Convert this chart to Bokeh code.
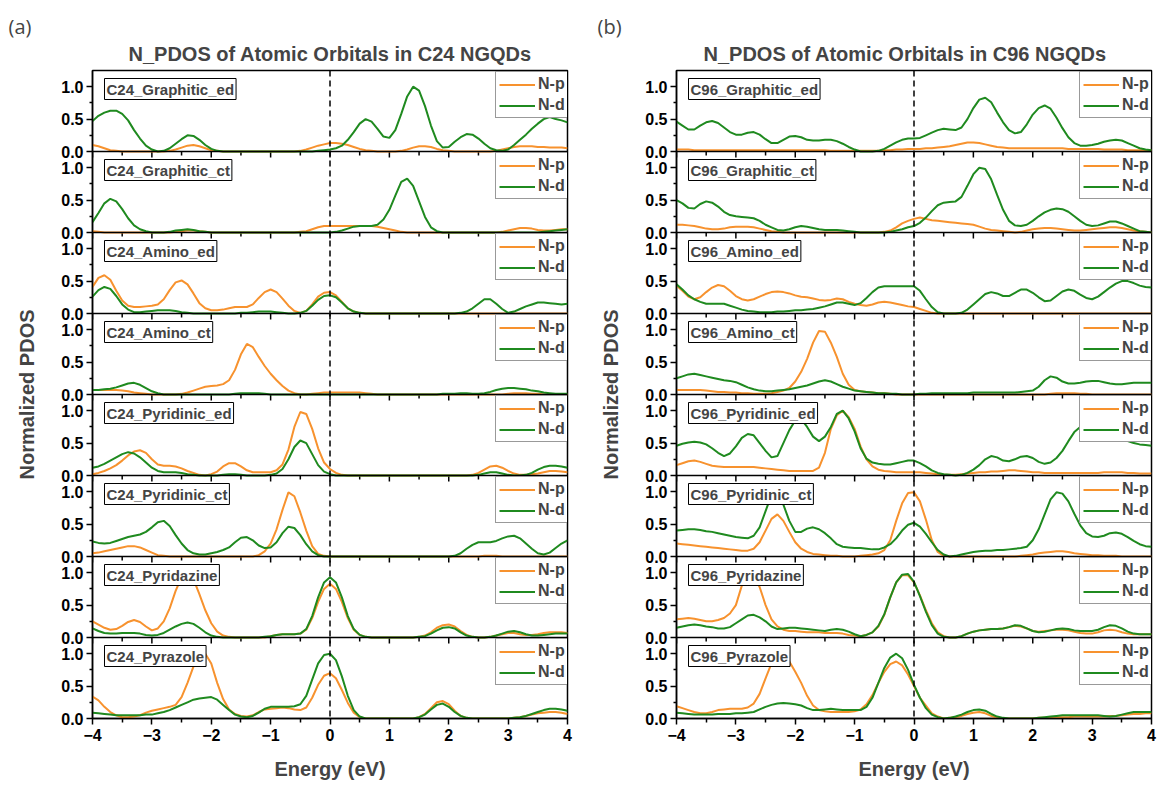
from bokeh.plotting import figure
from bokeh.models import Range1d, FixedTicker, Span, Label, Legend, LegendItem
from bokeh.layouts import row, column
from bokeh.embed import file_html
from bokeh.resources import INLINE

# ---------------- data ----------------
energy = [round(-4.0 + 0.1 * i, 1) for i in range(81)]
x_major_ticks = [-4, -3, -2, -1, 0, 1, 2, 3, 4]
x_minor_ticks = [-3.5, -2.5, -1.5, -0.5, 0.5, 1.5, 2.5, 3.5]
y_tick_values = [0.0, 0.5, 1.0]
y_tick_labels = ["0.0", "0.5", "1.0"]
y_minor_values = [0.25, 0.75]
series_names = ["N-p", "N-d"]
panel_titles = ["N_PDOS of Atomic Orbitals in C24 NGQDs", "N_PDOS of Atomic Orbitals in C96 NGQDs"]
panel_letters = ["(a)", "(b)"]

c24_labels = ["C24_Graphitic_ed", "C24_Graphitic_ct", "C24_Amino_ed", "C24_Amino_ct",
              "C24_Pyridinic_ed", "C24_Pyridinic_ct", "C24_Pyridazine", "C24_Pyrazole"]
c96_labels = ["C96_Graphitic_ed", "C96_Graphitic_ct", "C96_Amino_ed", "C96_Amino_ct",
              "C96_Pyridinic_ed", "C96_Pyridinic_ct", "C96_Pyridazine", "C96_Pyrazole"]

c24_graphitic_ed_p = [
    0.10, 0.08, 0.05, 0.02, 0.01, 0.00, 0.00, 0.00, 0.00, 0.00,
    0.00, 0.00, 0.00, 0.01, 0.03, 0.06, 0.09, 0.10, 0.08, 0.05,
    0.02, 0.01, 0.00, 0.00, 0.00, 0.00, 0.00, 0.00, 0.00, 0.00,
    0.00, 0.00, 0.00, 0.00, 0.00, 0.01, 0.03, 0.06, 0.09, 0.11,
    0.13, 0.13, 0.12, 0.10, 0.07, 0.04, 0.02, 0.01, 0.00, 0.00,
    0.00, 0.00, 0.01, 0.03, 0.06, 0.08, 0.08, 0.07, 0.04, 0.02,
    0.01, 0.00, 0.00, 0.00, 0.00, 0.00, 0.00, 0.00, 0.01, 0.03,
    0.05, 0.07, 0.08, 0.08, 0.08, 0.07, 0.07, 0.06, 0.06, 0.06,
    0.05]
c24_graphitic_ed_d = [
    0.47, 0.55, 0.60, 0.63, 0.63, 0.58, 0.48, 0.33, 0.20, 0.09,
    0.03, 0.00, 0.01, 0.05, 0.12, 0.19, 0.25, 0.24, 0.18, 0.10,
    0.04, 0.01, 0.00, 0.00, 0.00, 0.00, 0.00, 0.00, 0.00, 0.00,
    0.00, 0.00, 0.00, 0.00, 0.00, 0.00, 0.00, 0.00, 0.01, 0.02,
    0.03, 0.05, 0.09, 0.18, 0.30, 0.43, 0.50, 0.46, 0.35, 0.23,
    0.21, 0.33, 0.58, 0.85, 1.00, 0.94, 0.70, 0.40, 0.16, 0.06,
    0.07, 0.15, 0.22, 0.27, 0.26, 0.20, 0.12, 0.05, 0.02, 0.01,
    0.03, 0.10, 0.18, 0.26, 0.35, 0.43, 0.50, 0.53, 0.50, 0.48,
    0.45]

c24_graphitic_ct_p = [
    0.02, 0.01, 0.00, 0.00, 0.00, 0.00, 0.00, 0.00, 0.00, 0.00,
    0.00, 0.00, 0.00, 0.00, 0.01, 0.02, 0.03, 0.03, 0.02, 0.01,
    0.00, 0.00, 0.00, 0.00, 0.00, 0.00, 0.00, 0.00, 0.00, 0.00,
    0.00, 0.00, 0.00, 0.00, 0.00, 0.01, 0.02, 0.05, 0.08, 0.10,
    0.10, 0.10, 0.10, 0.10, 0.10, 0.10, 0.10, 0.10, 0.09, 0.07,
    0.05, 0.03, 0.01, 0.00, 0.00, 0.00, 0.00, 0.00, 0.00, 0.00,
    0.00, 0.00, 0.00, 0.00, 0.00, 0.00, 0.00, 0.00, 0.00, 0.01,
    0.03, 0.05, 0.07, 0.07, 0.06, 0.04, 0.03, 0.03, 0.04, 0.05,
    0.05]
c24_graphitic_ct_d = [
    0.16, 0.30, 0.45, 0.52, 0.48, 0.36, 0.22, 0.11, 0.05, 0.02,
    0.00, 0.00, 0.00, 0.01, 0.03, 0.04, 0.05, 0.04, 0.02, 0.01,
    0.00, 0.00, 0.00, 0.00, 0.00, 0.00, 0.00, 0.00, 0.00, 0.00,
    0.00, 0.00, 0.00, 0.00, 0.00, 0.00, 0.00, 0.00, 0.00, 0.00,
    0.00, 0.01, 0.03, 0.06, 0.09, 0.10, 0.10, 0.10, 0.12, 0.20,
    0.35, 0.57, 0.78, 0.83, 0.72, 0.48, 0.24, 0.08, 0.02, 0.00,
    0.00, 0.00, 0.00, 0.00, 0.00, 0.00, 0.00, 0.00, 0.00, 0.00,
    0.00, 0.00, 0.00, 0.00, 0.00, 0.00, 0.01, 0.02, 0.03, 0.04,
    0.05]

c24_amino_ed_p = [
    0.41, 0.55, 0.59, 0.52, 0.35, 0.20, 0.12, 0.10, 0.10, 0.11,
    0.12, 0.14, 0.22, 0.36, 0.48, 0.51, 0.45, 0.31, 0.16, 0.08,
    0.05, 0.05, 0.06, 0.08, 0.10, 0.10, 0.10, 0.14, 0.24, 0.33,
    0.37, 0.33, 0.23, 0.12, 0.04, 0.01, 0.04, 0.14, 0.26, 0.32,
    0.33, 0.28, 0.18, 0.08, 0.03, 0.01, 0.00, 0.00, 0.00, 0.00,
    0.00, 0.00, 0.00, 0.00, 0.00, 0.00, 0.00, 0.00, 0.00, 0.00,
    0.00, 0.00, 0.00, 0.00, 0.00, 0.00, 0.00, 0.00, 0.00, 0.00,
    0.00, 0.00, 0.00, 0.00, 0.00, 0.00, 0.00, 0.00, 0.00, 0.00,
    0.00]
c24_amino_ed_d = [
    0.26, 0.36, 0.41, 0.38, 0.27, 0.14, 0.06, 0.02, 0.02, 0.03,
    0.04, 0.05, 0.05, 0.05, 0.04, 0.02, 0.01, 0.00, 0.00, 0.00,
    0.00, 0.00, 0.00, 0.00, 0.00, 0.01, 0.01, 0.02, 0.03, 0.03,
    0.03, 0.02, 0.01, 0.00, 0.00, 0.01, 0.04, 0.12, 0.21, 0.27,
    0.28, 0.25, 0.17, 0.08, 0.03, 0.01, 0.00, 0.00, 0.00, 0.00,
    0.00, 0.00, 0.00, 0.00, 0.00, 0.00, 0.00, 0.00, 0.00, 0.00,
    0.00, 0.00, 0.01, 0.03, 0.08, 0.15, 0.22, 0.22, 0.15, 0.07,
    0.01, 0.03, 0.07, 0.11, 0.14, 0.17, 0.17, 0.16, 0.15, 0.14,
    0.15]

c24_amino_ct_p = [
    0.07, 0.07, 0.07, 0.07, 0.07, 0.06, 0.05, 0.03, 0.02, 0.01,
    0.00, 0.00, 0.00, 0.00, 0.00, 0.01, 0.03, 0.06, 0.09, 0.12,
    0.13, 0.14, 0.16, 0.22, 0.38, 0.62, 0.78, 0.73, 0.58, 0.44,
    0.32, 0.22, 0.13, 0.06, 0.02, 0.00, 0.00, 0.01, 0.02, 0.03,
    0.03, 0.03, 0.03, 0.03, 0.03, 0.03, 0.02, 0.01, 0.00, 0.00,
    0.00, 0.00, 0.00, 0.00, 0.00, 0.00, 0.00, 0.00, 0.00, 0.00,
    0.00, 0.00, 0.00, 0.00, 0.00, 0.00, 0.00, 0.00, 0.00, 0.00,
    0.01, 0.02, 0.02, 0.02, 0.01, 0.01, 0.00, 0.00, 0.00, 0.00,
    0.00]
c24_amino_ct_d = [
    0.07, 0.07, 0.08, 0.09, 0.11, 0.14, 0.17, 0.18, 0.15, 0.10,
    0.05, 0.02, 0.00, 0.00, 0.00, 0.00, 0.00, 0.00, 0.00, 0.00,
    0.00, 0.00, 0.00, 0.00, 0.01, 0.02, 0.02, 0.02, 0.02, 0.01,
    0.00, 0.00, 0.00, 0.00, 0.00, 0.00, 0.00, 0.00, 0.00, 0.00,
    0.00, 0.00, 0.00, 0.00, 0.00, 0.00, 0.00, 0.00, 0.00, 0.00,
    0.00, 0.00, 0.00, 0.00, 0.00, 0.00, 0.00, 0.00, 0.00, 0.01,
    0.01, 0.01, 0.02, 0.02, 0.01, 0.01, 0.02, 0.04, 0.07, 0.09,
    0.10, 0.10, 0.09, 0.08, 0.06, 0.05, 0.03, 0.02, 0.01, 0.01,
    0.01]

c24_pyridinic_ed_p = [
    0.02, 0.04, 0.07, 0.11, 0.16, 0.23, 0.31, 0.37, 0.39, 0.35,
    0.25, 0.17, 0.15, 0.15, 0.14, 0.11, 0.07, 0.04, 0.01, 0.00,
    0.02, 0.06, 0.14, 0.19, 0.19, 0.14, 0.08, 0.05, 0.05, 0.05,
    0.05, 0.08, 0.17, 0.40, 0.75, 0.98, 0.95, 0.72, 0.42, 0.20,
    0.10, 0.04, 0.01, 0.00, 0.00, 0.00, 0.00, 0.00, 0.00, 0.00,
    0.00, 0.00, 0.00, 0.00, 0.00, 0.00, 0.00, 0.00, 0.00, 0.00,
    0.00, 0.00, 0.00, 0.00, 0.01, 0.04, 0.09, 0.14, 0.15, 0.12,
    0.07, 0.03, 0.01, 0.01, 0.02, 0.03, 0.05, 0.07, 0.07, 0.06,
    0.05]
c24_pyridinic_ed_d = [
    0.12, 0.14, 0.18, 0.23, 0.28, 0.33, 0.36, 0.34, 0.28, 0.20,
    0.12, 0.07, 0.05, 0.05, 0.05, 0.04, 0.02, 0.01, 0.00, 0.00,
    0.00, 0.00, 0.01, 0.02, 0.02, 0.01, 0.00, 0.00, 0.00, 0.00,
    0.01, 0.03, 0.10, 0.25, 0.44, 0.54, 0.50, 0.33, 0.16, 0.06,
    0.02, 0.00, 0.00, 0.00, 0.00, 0.00, 0.00, 0.00, 0.00, 0.00,
    0.00, 0.00, 0.00, 0.00, 0.00, 0.00, 0.00, 0.00, 0.00, 0.00,
    0.00, 0.00, 0.00, 0.00, 0.00, 0.01, 0.03, 0.05, 0.05, 0.03,
    0.01, 0.00, 0.00, 0.01, 0.04, 0.09, 0.13, 0.15, 0.15, 0.14,
    0.12]

c24_pyridinic_ct_p = [
    0.05, 0.06, 0.08, 0.10, 0.12, 0.14, 0.16, 0.16, 0.14, 0.10,
    0.06, 0.02, 0.01, 0.00, 0.00, 0.00, 0.00, 0.00, 0.00, 0.00,
    0.00, 0.00, 0.00, 0.00, 0.00, 0.00, 0.00, 0.00, 0.02, 0.08,
    0.20, 0.42, 0.72, 0.99, 0.93, 0.68, 0.40, 0.16, 0.04, 0.01,
    0.00, 0.00, 0.00, 0.00, 0.00, 0.00, 0.00, 0.00, 0.00, 0.00,
    0.00, 0.00, 0.00, 0.00, 0.00, 0.00, 0.00, 0.00, 0.00, 0.00,
    0.00, 0.00, 0.00, 0.00, 0.00, 0.00, 0.01, 0.01, 0.01, 0.00,
    0.00, 0.00, 0.00, 0.00, 0.00, 0.00, 0.00, 0.00, 0.00, 0.00,
    0.00]
c24_pyridinic_ct_d = [
    0.23, 0.21, 0.20, 0.21, 0.24, 0.27, 0.30, 0.32, 0.34, 0.38,
    0.45, 0.53, 0.55, 0.47, 0.33, 0.20, 0.10, 0.05, 0.03, 0.03,
    0.05, 0.07, 0.10, 0.14, 0.22, 0.29, 0.30, 0.25, 0.17, 0.13,
    0.14, 0.22, 0.36, 0.46, 0.44, 0.33, 0.19, 0.08, 0.02, 0.00,
    0.00, 0.00, 0.00, 0.00, 0.00, 0.00, 0.00, 0.00, 0.00, 0.00,
    0.00, 0.00, 0.00, 0.00, 0.00, 0.00, 0.00, 0.00, 0.00, 0.00,
    0.00, 0.01, 0.05, 0.12, 0.18, 0.22, 0.22, 0.22, 0.24, 0.28,
    0.31, 0.32, 0.28, 0.20, 0.12, 0.05, 0.03, 0.06, 0.13, 0.20,
    0.25]

c24_pyridazine_p = [
    0.25, 0.20, 0.15, 0.12, 0.13, 0.18, 0.24, 0.27, 0.24, 0.17,
    0.11, 0.14, 0.25, 0.45, 0.72, 0.93, 1.00, 0.90, 0.67, 0.42,
    0.22, 0.09, 0.03, 0.01, 0.00, 0.00, 0.00, 0.00, 0.00, 0.00,
    0.02, 0.04, 0.05, 0.05, 0.05, 0.06, 0.12, 0.30, 0.55, 0.75,
    0.83, 0.75, 0.55, 0.30, 0.12, 0.04, 0.01, 0.00, 0.00, 0.00,
    0.00, 0.00, 0.00, 0.00, 0.00, 0.01, 0.03, 0.08, 0.15, 0.19,
    0.20, 0.17, 0.10, 0.04, 0.01, 0.00, 0.00, 0.01, 0.03, 0.05,
    0.07, 0.07, 0.05, 0.04, 0.04, 0.05, 0.07, 0.08, 0.08, 0.08,
    0.07]
c24_pyridazine_d = [
    0.14, 0.10, 0.07, 0.06, 0.06, 0.07, 0.07, 0.07, 0.06, 0.04,
    0.03, 0.04, 0.07, 0.12, 0.17, 0.21, 0.23, 0.21, 0.15, 0.08,
    0.03, 0.01, 0.00, 0.00, 0.00, 0.00, 0.00, 0.00, 0.00, 0.01,
    0.02, 0.04, 0.05, 0.05, 0.05, 0.06, 0.13, 0.33, 0.62, 0.85,
    0.93, 0.85, 0.62, 0.33, 0.13, 0.04, 0.01, 0.00, 0.00, 0.00,
    0.00, 0.00, 0.00, 0.00, 0.00, 0.01, 0.02, 0.06, 0.11, 0.15,
    0.16, 0.14, 0.08, 0.03, 0.01, 0.00, 0.00, 0.01, 0.03, 0.06,
    0.09, 0.10, 0.08, 0.05, 0.03, 0.03, 0.04, 0.05, 0.06, 0.06,
    0.06]

c24_pyrazole_p = [
    0.34, 0.28, 0.18, 0.10, 0.05, 0.02, 0.02, 0.03, 0.05, 0.09,
    0.12, 0.14, 0.16, 0.18, 0.21, 0.33, 0.55, 0.80, 0.97, 1.00,
    0.85, 0.55, 0.30, 0.14, 0.07, 0.04, 0.03, 0.05, 0.10, 0.14,
    0.15, 0.16, 0.17, 0.16, 0.14, 0.13, 0.17, 0.32, 0.52, 0.66,
    0.70, 0.62, 0.44, 0.24, 0.09, 0.02, 0.00, 0.00, 0.00, 0.00,
    0.00, 0.00, 0.00, 0.00, 0.00, 0.02, 0.07, 0.16, 0.25, 0.27,
    0.22, 0.12, 0.04, 0.01, 0.00, 0.00, 0.00, 0.00, 0.00, 0.00,
    0.00, 0.01, 0.02, 0.04, 0.06, 0.08, 0.09, 0.10, 0.10, 0.09,
    0.07]
c24_pyrazole_d = [
    0.09, 0.08, 0.07, 0.06, 0.05, 0.05, 0.05, 0.05, 0.05, 0.06,
    0.06, 0.08, 0.10, 0.13, 0.17, 0.21, 0.25, 0.29, 0.31, 0.32,
    0.33, 0.29, 0.21, 0.13, 0.06, 0.03, 0.02, 0.04, 0.09, 0.15,
    0.18, 0.18, 0.18, 0.18, 0.19, 0.22, 0.35, 0.60, 0.85, 0.98,
    1.00, 0.90, 0.65, 0.35, 0.13, 0.03, 0.00, 0.00, 0.00, 0.00,
    0.00, 0.00, 0.00, 0.00, 0.00, 0.02, 0.06, 0.14, 0.21, 0.23,
    0.18, 0.10, 0.04, 0.01, 0.00, 0.00, 0.00, 0.00, 0.00, 0.00,
    0.00, 0.01, 0.02, 0.04, 0.07, 0.10, 0.13, 0.15, 0.15, 0.14,
    0.12]

c96_graphitic_ed_p = [
    0.03, 0.03, 0.03, 0.02, 0.02, 0.02, 0.02, 0.02, 0.02, 0.02,
    0.02, 0.02, 0.02, 0.02, 0.02, 0.02, 0.02, 0.02, 0.02, 0.02,
    0.02, 0.02, 0.02, 0.02, 0.02, 0.02, 0.01, 0.01, 0.01, 0.01,
    0.01, 0.01, 0.01, 0.01, 0.01, 0.02, 0.02, 0.03, 0.03, 0.04,
    0.04, 0.04, 0.05, 0.05, 0.06, 0.07, 0.08, 0.10, 0.12, 0.14,
    0.14, 0.13, 0.11, 0.09, 0.07, 0.06, 0.05, 0.05, 0.05, 0.05,
    0.05, 0.05, 0.05, 0.05, 0.05, 0.05, 0.04, 0.04, 0.04, 0.04,
    0.04, 0.04, 0.03, 0.03, 0.03, 0.03, 0.02, 0.02, 0.02, 0.02,
    0.02]
c96_graphitic_ed_d = [
    0.46, 0.40, 0.34, 0.34, 0.40, 0.45, 0.47, 0.44, 0.37, 0.30,
    0.26, 0.26, 0.29, 0.30, 0.26, 0.19, 0.13, 0.13, 0.18, 0.23,
    0.24, 0.22, 0.18, 0.17, 0.17, 0.18, 0.18, 0.16, 0.12, 0.07,
    0.03, 0.00, 0.00, 0.00, 0.01, 0.04, 0.09, 0.14, 0.18, 0.20,
    0.20, 0.21, 0.25, 0.29, 0.33, 0.35, 0.34, 0.33, 0.37, 0.50,
    0.67, 0.80, 0.83, 0.76, 0.60, 0.45, 0.33, 0.28, 0.30, 0.42,
    0.57, 0.67, 0.71, 0.66, 0.52, 0.36, 0.22, 0.13, 0.09, 0.09,
    0.10, 0.12, 0.15, 0.17, 0.18, 0.17, 0.13, 0.09, 0.05, 0.03,
    0.02]

c96_graphitic_ct_p = [
    0.12, 0.12, 0.11, 0.10, 0.08, 0.06, 0.05, 0.05, 0.06, 0.08,
    0.09, 0.09, 0.09, 0.08, 0.06, 0.04, 0.02, 0.01, 0.00, 0.00,
    0.00, 0.00, 0.00, 0.00, 0.00, 0.00, 0.00, 0.00, 0.00, 0.00,
    0.00, 0.00, 0.00, 0.00, 0.00, 0.01, 0.03, 0.08, 0.14, 0.18,
    0.21, 0.23, 0.21, 0.19, 0.18, 0.17, 0.16, 0.15, 0.14, 0.13,
    0.12, 0.09, 0.06, 0.04, 0.03, 0.02, 0.01, 0.00, 0.01, 0.03,
    0.05, 0.06, 0.07, 0.07, 0.06, 0.05, 0.04, 0.03, 0.03, 0.04,
    0.05, 0.06, 0.07, 0.08, 0.08, 0.07, 0.05, 0.03, 0.02, 0.01,
    0.00]
c96_graphitic_ct_d = [
    0.50, 0.45, 0.38, 0.37, 0.44, 0.48, 0.46, 0.40, 0.32, 0.27,
    0.25, 0.24, 0.23, 0.22, 0.18, 0.12, 0.08, 0.04, 0.03, 0.05,
    0.08, 0.10, 0.09, 0.07, 0.05, 0.04, 0.04, 0.04, 0.03, 0.02,
    0.01, 0.00, 0.00, 0.00, 0.00, 0.00, 0.01, 0.03, 0.05, 0.08,
    0.10, 0.15, 0.23, 0.33, 0.42, 0.46, 0.47, 0.48, 0.55, 0.72,
    0.90, 1.00, 0.98, 0.82, 0.58, 0.35, 0.18, 0.11, 0.10, 0.12,
    0.18, 0.25, 0.31, 0.35, 0.37, 0.36, 0.32, 0.25, 0.18, 0.12,
    0.10, 0.11, 0.14, 0.17, 0.17, 0.14, 0.10, 0.06, 0.02, 0.01,
    0.00]

c96_amino_ed_p = [
    0.43, 0.35, 0.26, 0.22, 0.25, 0.33, 0.40, 0.44, 0.42, 0.35,
    0.27, 0.22, 0.20, 0.22, 0.26, 0.30, 0.33, 0.34, 0.33, 0.31,
    0.28, 0.26, 0.25, 0.23, 0.21, 0.20, 0.21, 0.23, 0.22, 0.18,
    0.15, 0.13, 0.12, 0.14, 0.17, 0.18, 0.17, 0.15, 0.13, 0.11,
    0.10, 0.07, 0.04, 0.01, 0.00, 0.00, 0.00, 0.00, 0.00, 0.00,
    0.00, 0.00, 0.00, 0.00, 0.00, 0.00, 0.00, 0.00, 0.00, 0.00,
    0.00, 0.00, 0.00, 0.00, 0.00, 0.00, 0.00, 0.00, 0.00, 0.00,
    0.00, 0.00, 0.00, 0.00, 0.00, 0.00, 0.00, 0.00, 0.00, 0.00,
    0.00]
c96_amino_ed_d = [
    0.45, 0.37, 0.28, 0.22, 0.18, 0.15, 0.15, 0.15, 0.15, 0.12,
    0.09, 0.06, 0.04, 0.03, 0.02, 0.02, 0.02, 0.03, 0.03, 0.04,
    0.05, 0.05, 0.06, 0.07, 0.09, 0.11, 0.14, 0.17, 0.17, 0.15,
    0.13, 0.16, 0.24, 0.33, 0.40, 0.42, 0.42, 0.42, 0.42, 0.42,
    0.42, 0.35, 0.22, 0.10, 0.02, 0.00, 0.00, 0.00, 0.01, 0.06,
    0.14, 0.22, 0.30, 0.33, 0.31, 0.27, 0.27, 0.32, 0.37, 0.37,
    0.32, 0.25, 0.19, 0.20, 0.27, 0.34, 0.37, 0.35, 0.29, 0.24,
    0.22, 0.26, 0.33, 0.40, 0.46, 0.50, 0.50, 0.47, 0.43, 0.41,
    0.40]

c96_amino_ct_p = [
    0.07, 0.07, 0.07, 0.07, 0.07, 0.06, 0.05, 0.04, 0.04, 0.03,
    0.03, 0.02, 0.02, 0.01, 0.01, 0.01, 0.02, 0.04, 0.06, 0.10,
    0.20, 0.35, 0.55, 0.80, 0.98, 0.97, 0.80, 0.58, 0.32, 0.15,
    0.07, 0.05, 0.04, 0.03, 0.02, 0.02, 0.01, 0.00, 0.00, 0.00,
    0.00, 0.00, 0.00, 0.00, 0.00, 0.00, 0.00, 0.00, 0.00, 0.00,
    0.00, 0.00, 0.00, 0.00, 0.00, 0.00, 0.00, 0.00, 0.00, 0.00,
    0.00, 0.00, 0.00, 0.01, 0.02, 0.02, 0.02, 0.02, 0.01, 0.01,
    0.00, 0.00, 0.00, 0.00, 0.00, 0.00, 0.00, 0.00, 0.00, 0.00,
    0.00]
c96_amino_ct_d = [
    0.25, 0.28, 0.31, 0.32, 0.30, 0.28, 0.26, 0.24, 0.22, 0.21,
    0.19, 0.15, 0.11, 0.08, 0.06, 0.05, 0.05, 0.06, 0.07, 0.08,
    0.10, 0.12, 0.14, 0.17, 0.20, 0.22, 0.20, 0.16, 0.12, 0.09,
    0.06, 0.05, 0.04, 0.03, 0.02, 0.02, 0.01, 0.01, 0.00, 0.00,
    0.00, 0.01, 0.01, 0.02, 0.02, 0.02, 0.02, 0.02, 0.02, 0.02,
    0.03, 0.03, 0.03, 0.03, 0.03, 0.03, 0.03, 0.03, 0.04, 0.05,
    0.06, 0.12, 0.22, 0.28, 0.26, 0.20, 0.17, 0.17, 0.18, 0.20,
    0.21, 0.21, 0.19, 0.17, 0.16, 0.16, 0.17, 0.18, 0.18, 0.18,
    0.18]

c96_pyridinic_ed_p = [
    0.16, 0.19, 0.22, 0.23, 0.21, 0.18, 0.15, 0.14, 0.13, 0.13,
    0.13, 0.13, 0.13, 0.13, 0.12, 0.11, 0.10, 0.09, 0.08, 0.07,
    0.07, 0.07, 0.07, 0.07, 0.12, 0.35, 0.72, 0.93, 1.00, 0.90,
    0.72, 0.45, 0.25, 0.14, 0.09, 0.07, 0.06, 0.05, 0.05, 0.05,
    0.05, 0.05, 0.04, 0.03, 0.02, 0.01, 0.01, 0.01, 0.02, 0.03,
    0.04, 0.05, 0.05, 0.06, 0.06, 0.07, 0.08, 0.08, 0.07, 0.06,
    0.05, 0.05, 0.04, 0.04, 0.04, 0.04, 0.04, 0.04, 0.04, 0.04,
    0.04, 0.04, 0.05, 0.05, 0.05, 0.05, 0.04, 0.04, 0.03, 0.03,
    0.03]
c96_pyridinic_ed_d = [
    0.46, 0.49, 0.51, 0.52, 0.51, 0.48, 0.42, 0.35, 0.30, 0.34,
    0.45, 0.58, 0.64, 0.62, 0.50, 0.38, 0.28, 0.30, 0.50, 0.70,
    0.85, 0.87, 0.75, 0.60, 0.53, 0.60, 0.75, 0.95, 1.00, 0.88,
    0.68, 0.42, 0.26, 0.20, 0.18, 0.17, 0.17, 0.19, 0.21, 0.23,
    0.23, 0.19, 0.14, 0.08, 0.04, 0.02, 0.01, 0.00, 0.01, 0.04,
    0.09, 0.16, 0.25, 0.30, 0.28, 0.23, 0.22, 0.25, 0.29, 0.30,
    0.27, 0.21, 0.18, 0.20, 0.27, 0.38, 0.53, 0.67, 0.75, 0.78,
    0.78, 0.75, 0.70, 0.65, 0.60, 0.56, 0.53, 0.50, 0.48, 0.47,
    0.46]

c96_pyridinic_ct_p = [
    0.20, 0.19, 0.18, 0.17, 0.16, 0.15, 0.14, 0.13, 0.12, 0.11,
    0.10, 0.09, 0.09, 0.12, 0.22, 0.40, 0.58, 0.65, 0.55, 0.38,
    0.22, 0.12, 0.07, 0.04, 0.03, 0.02, 0.01, 0.01, 0.00, 0.00,
    0.00, 0.01, 0.02, 0.03, 0.05, 0.10, 0.25, 0.55, 0.82, 0.98,
    0.99, 0.85, 0.57, 0.25, 0.07, 0.01, 0.00, 0.00, 0.00, 0.00,
    0.00, 0.00, 0.00, 0.00, 0.00, 0.00, 0.00, 0.00, 0.01, 0.02,
    0.03, 0.05, 0.06, 0.07, 0.08, 0.08, 0.07, 0.05, 0.04, 0.03,
    0.02, 0.02, 0.01, 0.01, 0.01, 0.00, 0.00, 0.00, 0.00, 0.00,
    0.00]
c96_pyridinic_ct_d = [
    0.40, 0.41, 0.42, 0.42, 0.41, 0.39, 0.38, 0.36, 0.34, 0.32,
    0.30, 0.29, 0.28, 0.32, 0.45, 0.70, 0.95, 1.00, 0.80, 0.55,
    0.38, 0.38, 0.43, 0.45, 0.42, 0.36, 0.28, 0.19, 0.15, 0.14,
    0.13, 0.13, 0.12, 0.11, 0.11, 0.14, 0.19, 0.28, 0.40, 0.49,
    0.52, 0.46, 0.35, 0.22, 0.10, 0.03, 0.00, 0.01, 0.03, 0.05,
    0.07, 0.08, 0.09, 0.09, 0.10, 0.10, 0.11, 0.12, 0.13, 0.15,
    0.25, 0.42, 0.65, 0.88, 0.99, 0.97, 0.85, 0.66, 0.48, 0.36,
    0.31, 0.30, 0.32, 0.36, 0.37, 0.35, 0.30, 0.24, 0.19, 0.16,
    0.15]

c96_pyridazine_p = [
    0.28, 0.29, 0.30, 0.29, 0.27, 0.25, 0.25, 0.27, 0.30, 0.37,
    0.50, 0.80, 0.97, 0.95, 0.78, 0.50, 0.28, 0.17, 0.12, 0.10,
    0.10, 0.09, 0.08, 0.08, 0.08, 0.07, 0.07, 0.07, 0.06, 0.04,
    0.03, 0.02, 0.04, 0.08, 0.17, 0.35, 0.62, 0.85, 0.96, 0.96,
    0.85, 0.65, 0.42, 0.22, 0.08, 0.02, 0.00, 0.00, 0.02, 0.06,
    0.09, 0.11, 0.12, 0.13, 0.13, 0.14, 0.16, 0.18, 0.17, 0.14,
    0.10, 0.09, 0.10, 0.11, 0.12, 0.12, 0.11, 0.09, 0.07, 0.06,
    0.06, 0.08, 0.11, 0.12, 0.11, 0.08, 0.06, 0.05, 0.05, 0.05,
    0.05]
c96_pyridazine_d = [
    0.15, 0.17, 0.19, 0.20, 0.19, 0.17, 0.16, 0.14, 0.14, 0.16,
    0.22, 0.28, 0.34, 0.35, 0.31, 0.25, 0.17, 0.13, 0.14, 0.15,
    0.15, 0.14, 0.13, 0.12, 0.11, 0.10, 0.12, 0.13, 0.12, 0.09,
    0.05, 0.02, 0.04, 0.08, 0.18, 0.36, 0.62, 0.85, 0.97, 0.98,
    0.86, 0.64, 0.40, 0.19, 0.06, 0.01, 0.00, 0.00, 0.02, 0.06,
    0.09, 0.11, 0.12, 0.13, 0.13, 0.14, 0.16, 0.19, 0.18, 0.14,
    0.10, 0.08, 0.09, 0.11, 0.13, 0.14, 0.13, 0.11, 0.10, 0.10,
    0.10, 0.12, 0.16, 0.19, 0.18, 0.14, 0.09, 0.06, 0.05, 0.05,
    0.05]

c96_pyrazole_p = [
    0.19, 0.16, 0.13, 0.10, 0.08, 0.08, 0.10, 0.13, 0.14, 0.15,
    0.15, 0.15, 0.17, 0.23, 0.38, 0.62, 0.85, 0.98, 1.00, 0.88,
    0.72, 0.55, 0.35, 0.20, 0.13, 0.11, 0.10, 0.10, 0.10, 0.10,
    0.11, 0.14, 0.22, 0.36, 0.55, 0.72, 0.84, 0.88, 0.82, 0.68,
    0.50, 0.32, 0.20, 0.08, 0.03, 0.00, 0.01, 0.02, 0.04, 0.07,
    0.09, 0.10, 0.08, 0.04, 0.01, 0.00, 0.00, 0.00, 0.00, 0.00,
    0.00, 0.01, 0.01, 0.01, 0.02, 0.02, 0.02, 0.03, 0.03, 0.03,
    0.03, 0.03, 0.03, 0.04, 0.04, 0.05, 0.06, 0.07, 0.07, 0.08,
    0.08]
c96_pyrazole_d = [
    0.09, 0.08, 0.07, 0.06, 0.06, 0.06, 0.06, 0.07, 0.07, 0.07,
    0.08, 0.08, 0.09, 0.10, 0.14, 0.18, 0.21, 0.23, 0.24, 0.23,
    0.22, 0.20, 0.16, 0.13, 0.13, 0.14, 0.15, 0.14, 0.13, 0.13,
    0.13, 0.13, 0.18, 0.32, 0.55, 0.78, 0.94, 1.00, 0.93, 0.75,
    0.52, 0.32, 0.16, 0.06, 0.02, 0.00, 0.01, 0.03, 0.06, 0.10,
    0.13, 0.14, 0.12, 0.07, 0.03, 0.01, 0.00, 0.00, 0.00, 0.00,
    0.00, 0.01, 0.02, 0.03, 0.04, 0.05, 0.05, 0.05, 0.05, 0.05,
    0.05, 0.05, 0.04, 0.03, 0.04, 0.06, 0.08, 0.10, 0.10, 0.10,
    0.10]

c24_p = [c24_graphitic_ed_p, c24_graphitic_ct_p, c24_amino_ed_p, c24_amino_ct_p,
         c24_pyridinic_ed_p, c24_pyridinic_ct_p, c24_pyridazine_p, c24_pyrazole_p]
c24_d = [c24_graphitic_ed_d, c24_graphitic_ct_d, c24_amino_ed_d, c24_amino_ct_d,
         c24_pyridinic_ed_d, c24_pyridinic_ct_d, c24_pyridazine_d, c24_pyrazole_d]
c96_p = [c96_graphitic_ed_p, c96_graphitic_ct_p, c96_amino_ed_p, c96_amino_ct_p,
         c96_pyridinic_ed_p, c96_pyridinic_ct_p, c96_pyridazine_p, c96_pyrazole_p]
c96_d = [c96_graphitic_ed_d, c96_graphitic_ct_d, c96_amino_ed_d, c96_amino_ct_d,
         c96_pyridinic_ed_d, c96_pyridinic_ct_d, c96_pyridazine_d, c96_pyrazole_d]

for grp in (c24_p, c24_d, c96_p, c96_d):
    for i, arr in enumerate(grp):
        assert len(arr) == len(energy), (i, len(arr))

# ---------------- style / layout ----------------
ORANGE = "#F7922E"
GREEN = "#1F8A1F"
FONT = "Liberation Sans"
SLOT = 1.25
N = 8
FRAME_W = 475
SUB_H = 81
FRAME_H = N * SUB_H
HEADER_H = 68
TOP = 2
BOTTOM = 69
PAGE_W = 1159
PX_PER_UNIT = SUB_H / SLOT
PX_PER_EV = FRAME_W / 8.0


def build_panel(names, p_list, d_list, border_left, border_right):
    p = figure(width=border_left + FRAME_W + border_right, height=TOP + FRAME_H + BOTTOM,
               x_range=Range1d(-4, 4), y_range=Range1d(0, N * SLOT),
               output_backend="svg", toolbar_location=None, title_location=None,
               min_border_left=border_left, min_border_right=border_right,
               min_border_top=TOP, min_border_bottom=BOTTOM)
    p.grid.visible = False
    p.outline_line_color = "black"
    p.outline_line_width = 1.5
    p.background_fill_color = "white"
    p.border_fill_color = "white"
    p.extra_y_ranges = {f"s{k}": Range1d(start=-(N - 1 - k) * SLOT, end=(k + 1) * SLOT) for k in range(N)}

    bases = [(N - 1 - k) * SLOT for k in range(N)]
    majors, minors, overrides = [], [], {}
    for b in bases:
        for v, lab in zip(y_tick_values, y_tick_labels):
            majors.append(b + v)
            overrides[b + v] = lab
        for v in y_minor_values:
            minors.append(b + v)

    yax = p.yaxis[0]
    yax.ticker = FixedTicker(ticks=majors, minor_ticks=minors)
    yax.major_label_overrides = overrides
    xax = p.xaxis[0]
    xax.ticker = FixedTicker(ticks=x_major_ticks, minor_ticks=x_minor_ticks)
    for ax in (xax, yax):
        ax.axis_line_width = 1.5
        ax.major_tick_line_width = 1.5
        ax.minor_tick_line_width = 1.5
        ax.major_tick_in = 0
        ax.minor_tick_in = 0
        ax.major_tick_out = 6
        ax.minor_tick_out = 3
        ax.major_label_text_font = FONT
        ax.major_label_text_font_style = "bold"
        ax.major_label_text_font_size = "16px"
        ax.major_label_text_color = "black"
        ax.axis_label_text_font = FONT
        ax.axis_label_text_font_style = "bold"
        ax.axis_label_text_font_size = "20px"
    xax.minor_tick_out = 4
    xax.major_label_standoff = 4
    xax.axis_label = "Energy (eV)"
    xax.axis_label_standoff = 14
    yax.major_label_standoff = 3
    yax.axis_label = "Normalized PDOS"
    yax.axis_label_standoff = 20

    # separators between stacked subplots, with their outward ticks
    maj_len = 6 / PX_PER_UNIT
    min_len = 4 / PX_PER_UNIT
    for j in range(1, N):
        b = j * SLOT
        p.add_layout(Span(location=b, dimension="width", line_color="black", line_width=1.5))
        p.segment(x0=x_major_ticks, y0=[b] * len(x_major_ticks), x1=x_major_ticks,
                  y1=[b - maj_len] * len(x_major_ticks), line_color="black", line_width=1.5)
        p.segment(x0=x_minor_ticks, y0=[b] * len(x_minor_ticks), x1=x_minor_ticks,
                  y1=[b - min_len] * len(x_minor_ticks), line_color="black", line_width=1.5)

    p.add_layout(Span(location=0, dimension="height", line_color="black",
                      line_width=1.5, line_dash="6 4"))

    for k in range(N):
        rng = f"s{k}"
        rp = p.line(energy, p_list[k], y_range_name=rng, line_color=ORANGE, line_width=2)
        rd = p.line(energy, d_list[k], y_range_name=rng, line_color=GREEN, line_width=2)
        p.add_layout(Label(x=-4 + 12 / PX_PER_EV, y=SLOT - 8 / PX_PER_UNIT, y_range_name=rng,
                           text=names[k], text_font=FONT, text_font_style="bold",
                           text_font_size="15px", text_align="left", text_baseline="top",
                           border_line_color="black", border_line_width=1,
                           background_fill_color="white", padding=2))
        leg = Legend(items=[LegendItem(label=series_names[0], renderers=[rp]),
                            LegendItem(label=series_names[1], renderers=[rd])],
                     location=(FRAME_W - 72, (N - k) * SUB_H - 48))
        leg.label_text_font = FONT
        leg.label_text_font_style = "bold"
        leg.label_text_font_size = "16px"
        leg.glyph_width = 36
        leg.glyph_height = 17
        leg.label_height = 17
        leg.label_standoff = 3
        leg.spacing = 3
        leg.padding = 3
        leg.margin = 0
        leg.border_line_color = "#333333"
        leg.border_line_width = 1
        leg.background_fill_alpha = 1.0
        p.add_layout(leg)
    return p


# header with the panel letters and titles
header = figure(width=PAGE_W, height=HEADER_H, x_range=Range1d(0, PAGE_W), y_range=Range1d(0, HEADER_H),
                output_backend="svg", toolbar_location=None, title_location=None,
                x_axis_type=None, y_axis_type=None,
                min_border_left=0, min_border_right=0, min_border_top=0, min_border_bottom=0)
header.grid.visible = False
header.outline_line_color = None
header.background_fill_color = "white"
header.border_fill_color = "white"
title_left_px = [128, 703]
letter_left_px = [8, 597]
for t, lx in zip(panel_titles, title_left_px):
    header.add_layout(Label(x=lx, y=HEADER_H - 53, text=t, text_font=FONT, text_font_style="bold",
                            text_font_size="20px", text_align="left", text_baseline="alphabetic"))
for t, lx in zip(panel_letters, letter_left_px):
    header.add_layout(Label(x=lx, y=HEADER_H - 26, text=t, text_font="Open Sans",
                            text_font_size="20px", text_align="left", text_baseline="alphabetic"))

left = build_panel(c24_labels, c24_p, c24_d, 92, 8)
right = build_panel(c96_labels, c96_p, c96_d, 101, 8)

layout = column(header, row(left, right))
open("out.html", "w").write(file_html(layout, INLINE))
